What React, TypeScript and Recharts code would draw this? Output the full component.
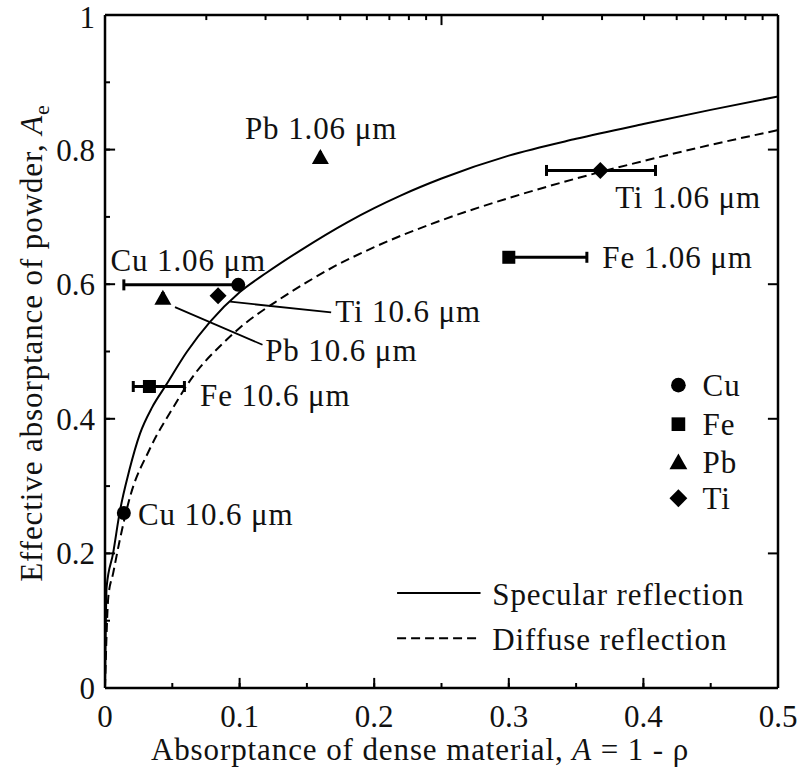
import {
  ComposedChart,
  Line,
  Scatter,
  ErrorBar,
  XAxis,
  YAxis,
  ReferenceDot,
  ReferenceLine,
} from 'recharts';

const FONT = '"Liberation Serif", "Times New Roman", serif';
const INK = '#111';
const FS = 31;
const LS = 0.9;

// axis ticks
const xTicks = [0, 0.05, 0.1, 0.15, 0.2, 0.25, 0.3, 0.35, 0.4, 0.45, 0.5];
const xMajor = [0.1, 0.2, 0.3, 0.4];
const xTickLabels = ['0', '0.1', '0.2', '0.3', '0.4', '0.5'];
const yTicks = [0, 0.1, 0.2, 0.3, 0.4, 0.5, 0.6, 0.7, 0.8, 0.9, 1];
const yMajor = [0.2, 0.4, 0.6, 0.8];
const yTickLabels = ['0', '0.2', '0.4', '0.6', '0.8', '1'];
// unlabeled logarithmic scale along the top edge, 1 .. 100 across the frame
const topTickValues = [2, 3, 4, 5, 6, 7, 8, 9, 10, 20, 30, 40, 50, 60, 70, 80, 90];
const topDecades = 2;

// model curves
const specularX = [0, 0.0012, 0.006, 0.011, 0.018, 0.026, 0.035, 0.045, 0.061, 0.078, 0.1, 0.12, 0.145, 0.18, 0.2, 0.22, 0.25, 0.3, 0.35, 0.4, 0.45, 0.5];
const specularY = [0, 0.15, 0.2, 0.262, 0.323, 0.378, 0.417, 0.449, 0.5, 0.544, 0.588, 0.617, 0.65, 0.692, 0.713, 0.732, 0.757, 0.791, 0.816, 0.838, 0.859, 0.879];
const diffuseX = [0, 0.0025, 0.006, 0.011, 0.0186, 0.033, 0.051, 0.065, 0.088, 0.1, 0.13, 0.15, 0.17, 0.2, 0.25, 0.3, 0.35, 0.4, 0.45, 0.5];
const diffuseY = [0, 0.136, 0.17, 0.22, 0.284, 0.354, 0.418, 0.462, 0.513, 0.535, 0.578, 0.603, 0.626, 0.655, 0.695, 0.728, 0.757, 0.783, 0.807, 0.829];

// measured points: [1.06 um, 10.6 um]
const cuX = [0.099, 0.014];
const cuY = [0.599, 0.26];
const cuErr = [[0.085, 0], [0, 0]];
const feX = [0.3, 0.033];
const feY = [0.64, 0.448];
const feErr = [[0, 0.058], [0.012, 0.026]];
const pbX = [0.16, 0.043];
const pbY = [0.789, 0.58];
const pbErr = [[0, 0], [0, 0]];
const tiX = [0.368, 0.084];
const tiY = [0.769, 0.583];
const tiErr = [[0.04, 0.041], [0, 0]];

// annotations
const labelTexts = ['Pb 1.06 μm', 'Ti 1.06 μm', 'Fe 1.06 μm', 'Cu 1.06 μm', 'Ti 10.6 μm', 'Pb 10.6 μm', 'Fe 10.6 μm', 'Cu 10.6 μm'];
const labelX = [0.104, 0.379, 0.3695, 0.004, 0.171, 0.119, 0.0706, 0.0245];
const labelY = [0.816, 0.713, 0.624, 0.62, 0.544, 0.486, 0.419, 0.242];
const leaders = [
  [0.093, 0.574, 0.168, 0.558],
  [0.052, 0.566, 0.117, 0.51],
];

// legends
const legendNames = ['Cu', 'Fe', 'Pb', 'Ti'];
const legendKinds = ['circle', 'square', 'triangle', 'diamond'];
const legendY = [0.45, 0.392, 0.336, 0.282];
const legendMarkX = 0.426;
const legendTextX = 0.444;
const lineNames = ['Specular reflection', 'Diffuse reflection'];
const lineDash = ['', '9 5'];
const lineLegendY = [0.141, 0.074];
const lineLegendX = [0.217, 0.279];
const lineTextX = 0.2877;

const X0 = 0;
const X1 = 0.5;
const Y0 = 0;
const Y1 = 1;
// tick lengths in axis units (about 5 px and 10 px on this 673 px square frame)
const DX_LONG = 0.0075;
const DY_SHORT = 0.0075;
const DY_LONG = 0.015;

const toPts = (xs: number[], ys: number[]) => xs.map((x, i) => ({ x, y: ys[i] }));
const toMarks = (xs: number[], ys: number[], es: number[][]) =>
  xs.map((x, i) => ({ x, y: ys[i], err: es[i] }));

const specular = toPts(specularX, specularY);
const diffuse = toPts(diffuseX, diffuseY);

// inward tick marks drawn as short segments
const tickSegs: { x: number; y: number }[][] = [
  ...xMajor.map((v) => [{ x: v, y: Y0 }, { x: v, y: Y0 + DY_LONG }]),
  ...yMajor.map((v) => [{ x: X0, y: v }, { x: X0 + DX_LONG, y: v }]),
  ...yMajor.map((v) => [{ x: X1, y: v }, { x: X1 - DX_LONG, y: v }]),
  ...topTickValues.map((v) => {
    const x = X0 + ((X1 - X0) * Math.log10(v)) / topDecades;
    return [{ x, y: Y1 }, { x, y: Y1 - (v === 10 ? DY_LONG : DY_SHORT) }];
  }),
];

function Marker({ kind, cx, cy, s = 1 }: any) {
  if (cx == null || cy == null) return null;
  if (kind === 'circle') return <circle cx={cx} cy={cy} r={7 * s} fill="#000" />;
  if (kind === 'square')
    return <rect x={cx - 6.5 * s} y={cy - 6.5 * s} width={13 * s} height={13 * s} fill="#000" />;
  if (kind === 'triangle')
    return (
      <polygon
        points={`${cx},${cy - 8 * s} ${cx + 8.5 * s},${cy + 7 * s} ${cx - 8.5 * s},${cy + 7 * s}`}
        fill="#000"
      />
    );
  return (
    <polygon
      points={`${cx},${cy - 8.5 * s} ${cx + 8.5 * s},${cy} ${cx},${cy + 8.5 * s} ${cx - 8.5 * s},${cy}`}
      fill="#000"
    />
  );
}

const BottomTick = (p: any) =>
  p.index % 2 === 0 ? (
    <text x={p.x} y={p.y + 39} textAnchor="middle" fontSize={FS} fontFamily={FONT} fill={INK}>
      {xTickLabels[p.index / 2]}
    </text>
  ) : (
    <g />
  );

const LeftTick = (p: any) =>
  p.index % 2 === 0 ? (
    <text
      x={p.x - 10}
      y={p.y + (p.index === 10 ? 13 : 11)}
      textAnchor="end"
      fontSize={FS}
      fontFamily={FONT}
      fill={INK}
    >
      {yTickLabels[p.index / 2]}
    </text>
  ) : (
    <g />
  );

const YTitle = (p: any) => {
  const vb = p.viewBox;
  const cx = vb.x + 42;
  const cy = 343;
  return (
    <text
      x={cx}
      y={cy}
      transform={`rotate(-90 ${cx} ${cy})`}
      textAnchor="middle"
      fontSize={FS}
      fontFamily={FONT}
      letterSpacing={LS}
      fill={INK}
    >
      Effective absorptance of powder, <tspan fontStyle="italic">A</tspan>
      <tspan dy={7} fontSize={22}>e</tspan>
    </text>
  );
};

const XTitle = (p: any) => {
  const vb = p.viewBox;
  return (
    <text
      x={vb.x + 315}
      y={vb.y + 72}
      textAnchor="middle"
      fontSize={FS}
      fontFamily={FONT}
      letterSpacing={LS}
      fill={INK}
    >
      Absorptance of dense material, <tspan fontStyle="italic">A</tspan> = 1 - ρ
    </text>
  );
};

const axisLine = { stroke: '#000', strokeWidth: 2.5 };
const minorTick = { stroke: '#000', strokeWidth: 2 };

const series = [
  { name: 'Cu', kind: 'circle', data: toMarks(cuX, cuY, cuErr) },
  { name: 'Fe', kind: 'square', data: toMarks(feX, feY, feErr) },
  { name: 'Pb', kind: 'triangle', data: toMarks(pbX, pbY, pbErr) },
  { name: 'Ti', kind: 'diamond', data: toMarks(tiX, tiY, tiErr) },
];

const Txt = ({ cx, cy, dy = 0, children }: any) => (
  <text x={cx} y={cy + dy} fontSize={FS} fontFamily={FONT} letterSpacing={LS} fill={INK}>
    {children}
  </text>
);

export default function App() {
  return (
    <div style={{ position: 'absolute', left: 0, top: 0, background: '#fff' }}>
      <ComposedChart width={798} height={778} margin={{ top: 14, right: 19, bottom: 0, left: 0 }}>
        <XAxis
          xAxisId="x"
          dataKey="x"
          type="number"
          domain={[X0, X1]}
          allowDataOverflow
          ticks={xTicks}
          interval={0}
          height={90}
          tickSize={-5}
          tickMargin={5}
          tickLine={minorTick}
          axisLine={axisLine}
          tick={BottomTick}
          label={XTitle}
        />
        <XAxis
          xAxisId="top"
          orientation="top"
          type="number"
          domain={[0, 1]}
          allowDataOverflow
          height={1}
          tick={false}
          tickLine={false}
          axisLine={axisLine}
        />
        <YAxis
          yAxisId="y"
          type="number"
          domain={[Y0, Y1]}
          allowDataOverflow
          ticks={yTicks}
          interval={0}
          width={105}
          tickSize={-5}
          tickMargin={5}
          tickLine={minorTick}
          axisLine={axisLine}
          tick={LeftTick}
          label={YTitle}
        />
        <YAxis
          yAxisId="right"
          orientation="right"
          type="number"
          domain={[Y0, Y1]}
          allowDataOverflow
          ticks={yTicks}
          interval={0}
          width={1}
          tickSize={-5}
          tickMargin={5}
          tickLine={minorTick}
          axisLine={axisLine}
          tick={false}
        />

        {tickSegs.map((seg, i) => (
          <ReferenceLine
            key={`tk${i}`}
            xAxisId="x"
            yAxisId="y"
            segment={seg}
            ifOverflow="visible"
            stroke="#000"
            strokeWidth={2}
          />
        ))}

        <Line
          xAxisId="x"
          yAxisId="y"
          data={specular}
          dataKey="y"
          type="monotone"
          stroke="#000"
          strokeWidth={2}
          dot={false}
          activeDot={false}
          isAnimationActive={false}
          name="Specular reflection"
        />
        <Line
          xAxisId="x"
          yAxisId="y"
          data={diffuse}
          dataKey="y"
          type="monotone"
          stroke="#000"
          strokeWidth={2}
          strokeDasharray="9 5"
          dot={false}
          activeDot={false}
          isAnimationActive={false}
          name="Diffuse reflection"
        />

        {leaders.map((l, i) => (
          <ReferenceLine
            key={`ld${i}`}
            xAxisId="x"
            yAxisId="y"
            segment={[{ x: l[0], y: l[1] }, { x: l[2], y: l[3] }]}
            stroke="#000"
            strokeWidth={1.8}
          />
        ))}

        {series.map((s) => (
          <Scatter
            key={s.name}
            xAxisId="x"
            yAxisId="y"
            data={s.data}
            dataKey="y"
            name={s.name}
            fill="#000"
            isAnimationActive={false}
            shape={(p: any) => <Marker kind={s.kind} cx={p.cx} cy={p.cy} />}
          >
            <ErrorBar
              dataKey="err"
              direction="x"
              width={5.5}
              stroke="#000"
              strokeWidth={3}
              isAnimationActive={false}
            />
          </Scatter>
        ))}

        {labelTexts.map((t, i) => (
          <ReferenceDot
            key={`lb${i}`}
            xAxisId="x"
            yAxisId="y"
            x={labelX[i]}
            y={labelY[i]}
            r={0}
            shape={(p: any) => <Txt cx={p.cx} cy={p.cy}>{t}</Txt>}
          />
        ))}

        {legendNames.map((n, i) => (
          <ReferenceDot
            key={`lgm${i}`}
            xAxisId="x"
            yAxisId="y"
            x={legendMarkX}
            y={legendY[i]}
            r={0}
            shape={(p: any) => <Marker kind={legendKinds[i]} cx={p.cx} cy={p.cy} s={1.05} />}
          />
        ))}
        {legendNames.map((n, i) => (
          <ReferenceDot
            key={`lgt${i}`}
            xAxisId="x"
            yAxisId="y"
            x={legendTextX}
            y={legendY[i]}
            r={0}
            shape={(p: any) => <Txt cx={p.cx} cy={p.cy} dy={11}>{n}</Txt>}
          />
        ))}

        {lineNames.map((n, i) => (
          <ReferenceLine
            key={`ll${i}`}
            xAxisId="x"
            yAxisId="y"
            segment={[{ x: lineLegendX[0], y: lineLegendY[i] }, { x: lineLegendX[1], y: lineLegendY[i] }]}
            stroke="#000"
            strokeWidth={2}
            strokeDasharray={lineDash[i] || undefined}
          />
        ))}
        {lineNames.map((n, i) => (
          <ReferenceDot
            key={`lt${i}`}
            xAxisId="x"
            yAxisId="y"
            x={lineTextX}
            y={lineLegendY[i]}
            r={0}
            shape={(p: any) => <Txt cx={p.cx} cy={p.cy} dy={12}>{n}</Txt>}
          />
        ))}
      </ComposedChart>
    </div>
  );
}
